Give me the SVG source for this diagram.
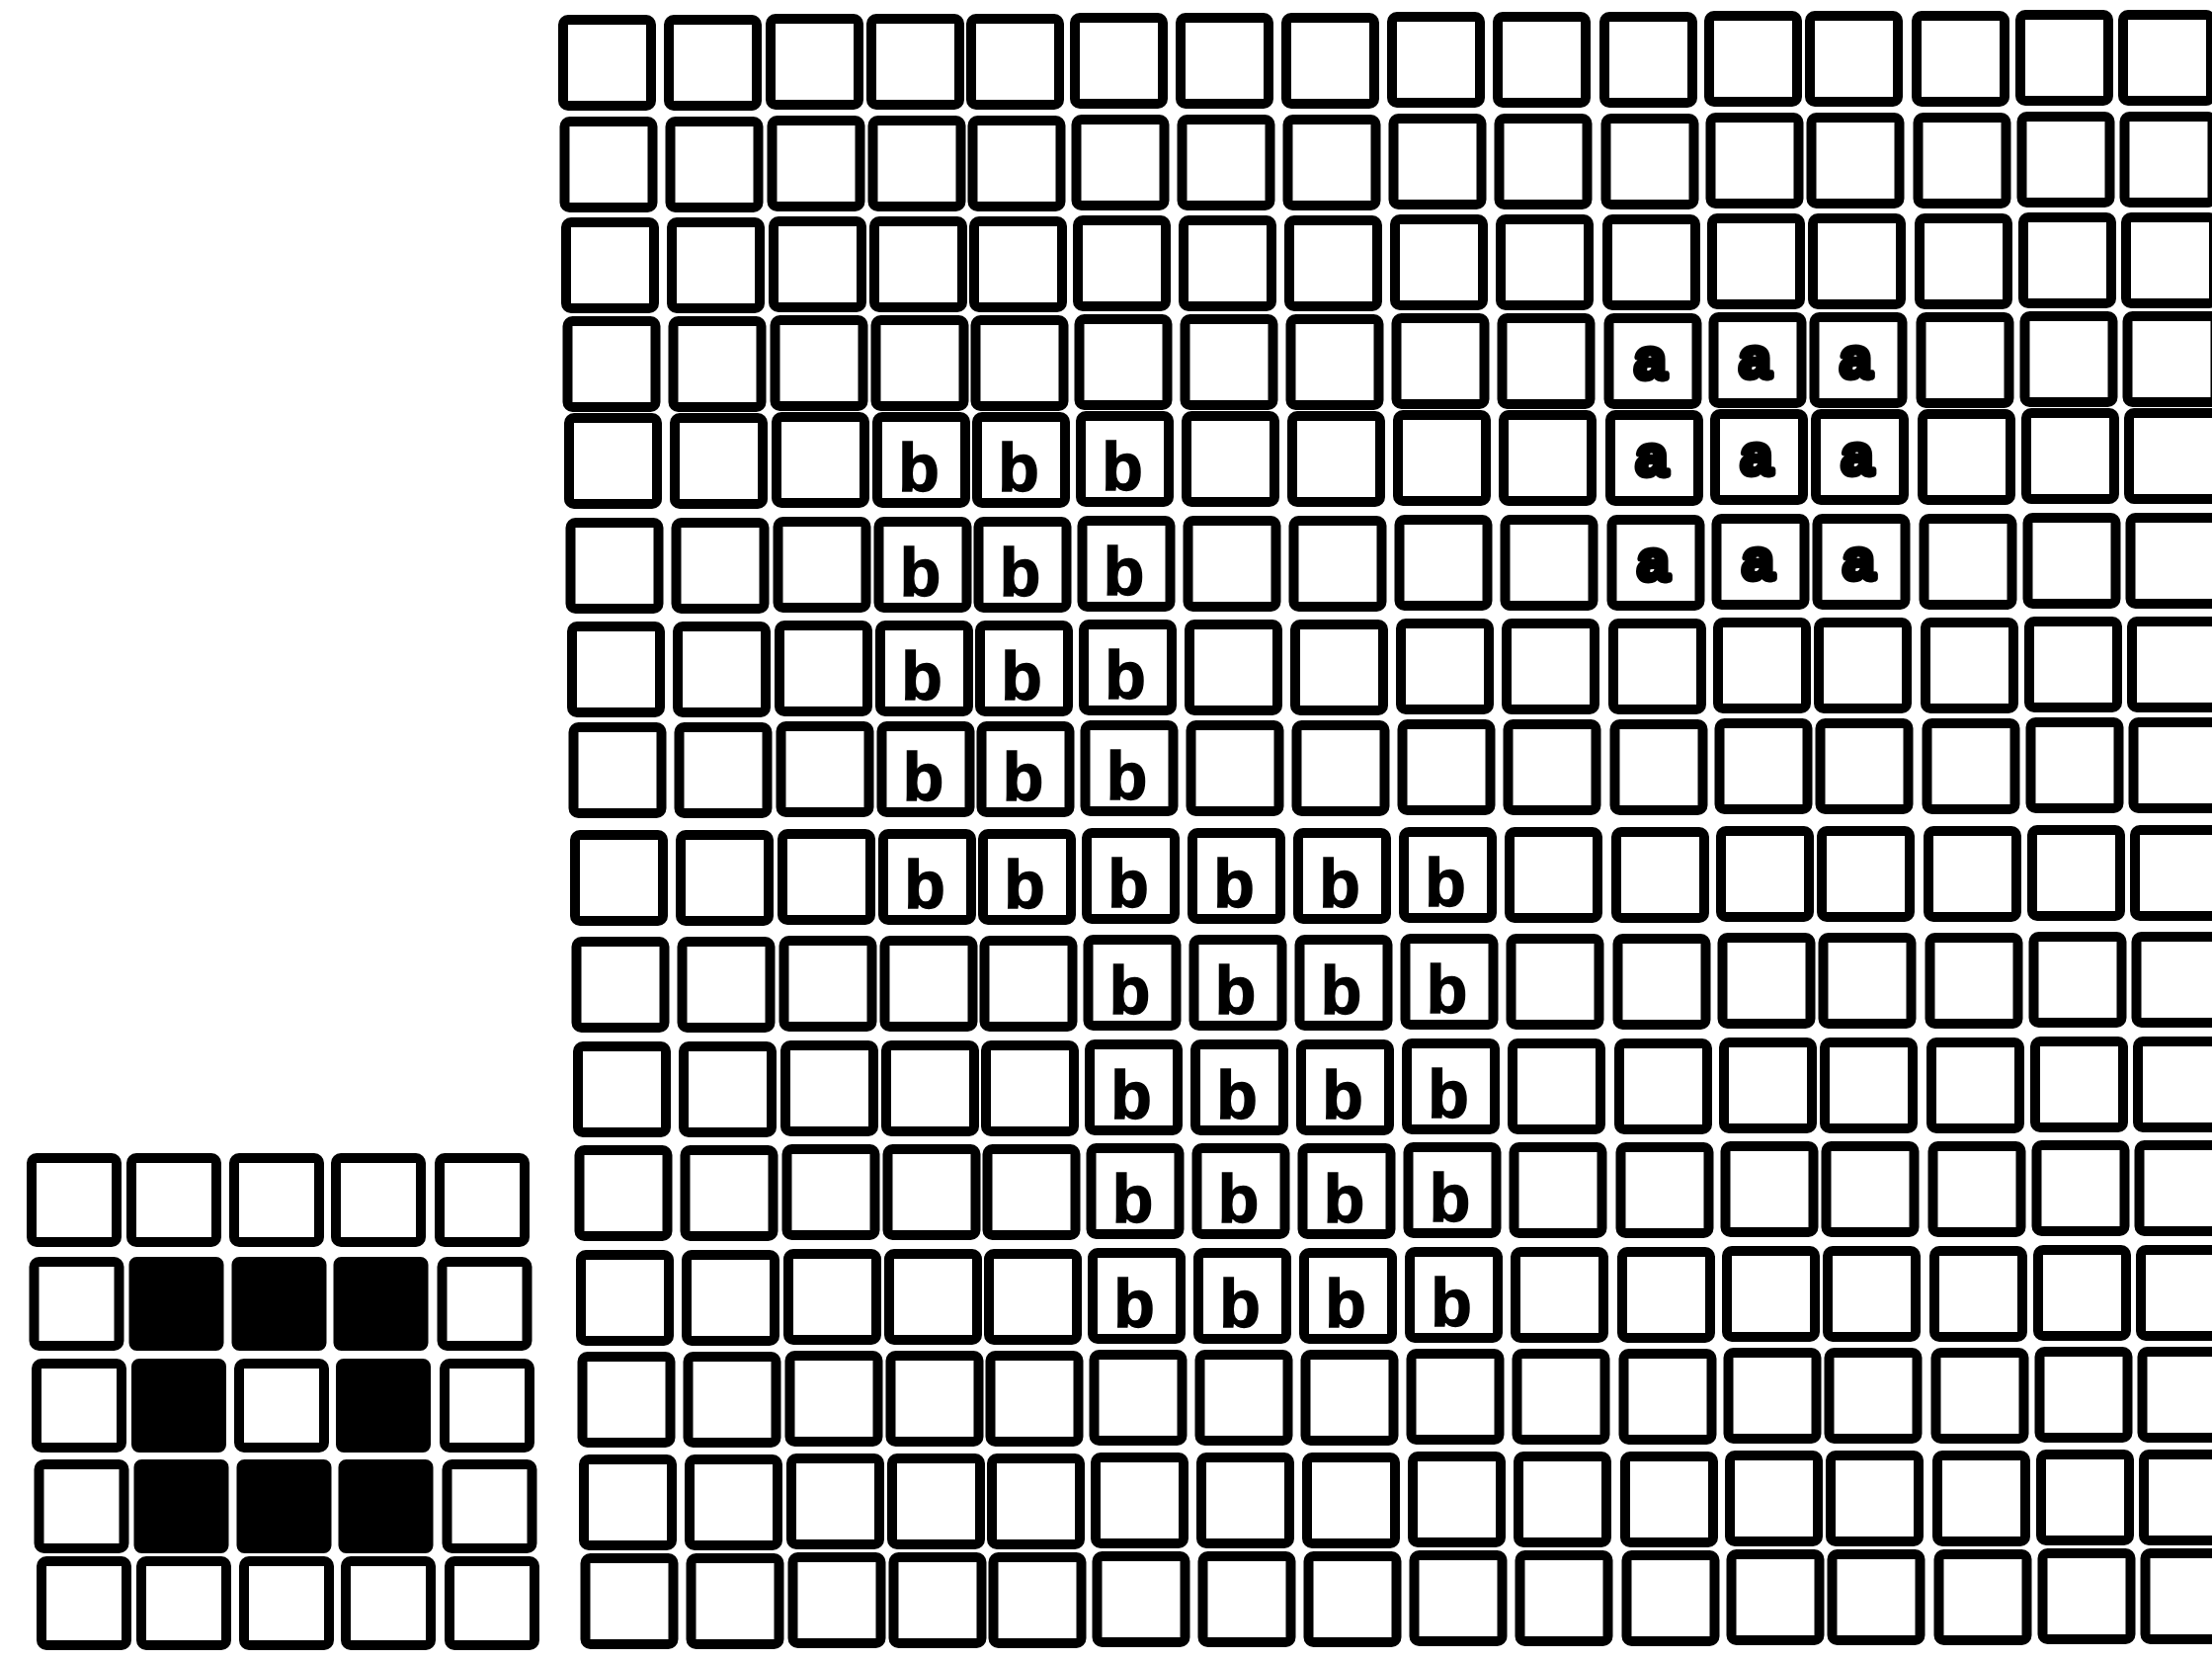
<svg xmlns="http://www.w3.org/2000/svg" xmlns:xlink="http://www.w3.org/1999/xlink" width="2239" height="1681" viewBox="0 0 2239 1681">
<style>
.c{fill:#fff;stroke:#000;stroke-width:10;stroke-linejoin:round}
.s{fill:#fff;stroke:#000;stroke-width:10;stroke-linejoin:round}
.f{fill:#000;stroke:#000;stroke-width:10;stroke-linejoin:round}
.b{font-family:"Liberation Sans",Arial,sans-serif;font-weight:bold;font-size:68px;text-anchor:middle;fill:#000;stroke:#000;stroke-width:1.5}
.a{font-family:"Liberation Sans",Arial,sans-serif;font-weight:bold;font-size:58px;text-anchor:middle;fill:#000;stroke:#000;stroke-width:6;stroke-linejoin:round}
</style>
<defs>
<rect id="cell" class="c" x="5" y="5" width="89" height="87" rx="5"/>
<rect id="sc" class="s" x="5" y="5" width="86" height="85" rx="5"/>
<rect id="fc" class="f" x="5" y="5" width="86" height="85" rx="3"/>
<g id="row">
<use href="#cell" x="565" y="0"/>
<use href="#cell" x="672" y="0"/>
<use href="#cell" x="775" y="-1"/>
<use href="#cell" x="877" y="-1"/>
<use href="#cell" x="978" y="-1"/>
<use href="#cell" x="1083" y="-2"/>
<use href="#cell" x="1190" y="-2"/>
<use href="#cell" x="1297" y="-2"/>
<use href="#cell" x="1404" y="-3"/>
<use href="#cell" x="1511" y="-3"/>
<use href="#cell" x="1619" y="-3"/>
<use href="#cell" x="1725" y="-4"/>
<use href="#cell" x="1827" y="-4"/>
<use href="#cell" x="1935" y="-4"/>
<use href="#cell" x="2040" y="-5"/>
<use href="#cell" x="2144" y="-5"/>
</g>
</defs>
<rect width="2239" height="1681" fill="#fff"/>

<g id="large-grid">
<g id="r0" transform="translate(0,15)"><use href="#row"/></g>
<g id="r1" transform="translate(1.5,118)"><use href="#row"/></g>
<g id="r2" transform="translate(3,220)"><use href="#row"/></g>
<g id="r3" transform="translate(4.5,320)"><use href="#row"/>
<text class="a" x="1666" y="63">a</text><text class="a" x="1772" y="62">a</text><text class="a" x="1874" y="62">a</text></g>
<g id="r4" transform="translate(6,418)"><use href="#row"/>
<text class="b" x="924" y="79">b</text><text class="b" x="1025" y="79">b</text><text class="b" x="1130" y="78">b</text>
<text class="a" x="1666" y="63">a</text><text class="a" x="1772" y="62">a</text><text class="a" x="1874" y="62">a</text></g>
<g id="r5" transform="translate(7.5,524)"><use href="#row"/>
<text class="b" x="924" y="79">b</text><text class="b" x="1025" y="79">b</text><text class="b" x="1130" y="78">b</text>
<text class="a" x="1666" y="63">a</text><text class="a" x="1772" y="62">a</text><text class="a" x="1874" y="62">a</text></g>
<g id="r6" transform="translate(9,629)"><use href="#row"/>
<text class="b" x="924" y="79">b</text><text class="b" x="1025" y="79">b</text><text class="b" x="1130" y="78">b</text></g>
<g id="r7" transform="translate(10.5,731)"><use href="#row"/>
<text class="b" x="924" y="79">b</text><text class="b" x="1025" y="79">b</text><text class="b" x="1130" y="78">b</text></g>
<g id="r8" transform="translate(12,840)"><use href="#row"/>
<text class="b" x="924" y="79">b</text><text class="b" x="1025" y="79">b</text><text class="b" x="1130" y="78">b</text>
<text class="b" x="1237" y="78">b</text><text class="b" x="1344" y="78">b</text><text class="b" x="1451" y="77">b</text></g>
<g id="r9" transform="translate(13.5,948)"><use href="#row"/>
<text class="b" x="1130" y="78">b</text><text class="b" x="1237" y="78">b</text><text class="b" x="1344" y="78">b</text><text class="b" x="1451" y="77">b</text></g>
<g id="r10" transform="translate(15,1054)"><use href="#row"/>
<text class="b" x="1130" y="78">b</text><text class="b" x="1237" y="78">b</text><text class="b" x="1344" y="78">b</text><text class="b" x="1451" y="77">b</text></g>
<g id="r11" transform="translate(16.5,1159)"><use href="#row"/>
<text class="b" x="1130" y="78">b</text><text class="b" x="1237" y="78">b</text><text class="b" x="1344" y="78">b</text><text class="b" x="1451" y="77">b</text></g>
<g id="r12" transform="translate(18,1265)"><use href="#row"/>
<text class="b" x="1130" y="78">b</text><text class="b" x="1237" y="78">b</text><text class="b" x="1344" y="78">b</text><text class="b" x="1451" y="77">b</text></g>
<g id="r13" transform="translate(19.5,1368)"><use href="#row"/></g>
<g id="r14" transform="translate(21,1472)"><use href="#row"/></g>
<g id="r15" transform="translate(22.5,1572)"><use href="#row"/></g>
</g>

<g id="small-grid">
<g id="s0" transform="translate(0,1167)">
<use href="#sc" x="27"/><use href="#sc" x="128"/><use href="#sc" x="232"/><use href="#sc" x="335"/><use href="#sc" x="440"/></g>
<g id="s1" transform="translate(2.5,1272)">
<use href="#sc" x="27"/><use href="#fc" x="128"/><use href="#fc" x="232"/><use href="#fc" x="335"/><use href="#sc" x="440"/></g>
<g id="s2" transform="translate(5,1375)">
<use href="#sc" x="27"/><use href="#fc" x="128"/><use href="#sc" x="232"/><use href="#fc" x="335"/><use href="#sc" x="440"/></g>
<g id="s3" transform="translate(7.5,1477)">
<use href="#sc" x="27"/><use href="#fc" x="128"/><use href="#fc" x="232"/><use href="#fc" x="335"/><use href="#sc" x="440"/></g>
<g id="s4" transform="translate(10,1575)">
<use href="#sc" x="27"/><use href="#sc" x="128"/><use href="#sc" x="232"/><use href="#sc" x="335"/><use href="#sc" x="440"/></g>
</g>
</svg>
